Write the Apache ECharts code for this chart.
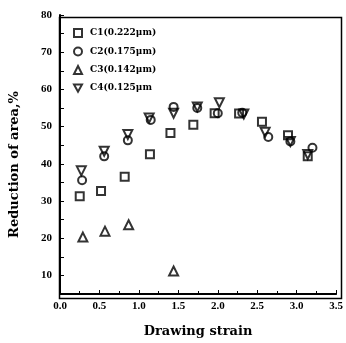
<!DOCTYPE html>
<html>
<head>
<meta charset="utf-8">
<script src="https://cdn.jsdelivr.net/npm/echarts@6/dist/echarts.min.js"></script>
<style>
  html, body { margin: 0; padding: 0; background: #fff; }
  #chart { width: 346px; height: 343px; }
</style>
</head>
<body>
<div id="chart"></div>
<script>
(function () {

    var seriesNames = ['C1(0.222\u03bcm)', 'C2(0.175\u03bcm)', 'C3(0.142\u03bcm)', 'C4(0.125\u03bcm'];

    // [drawing strain, reduction of area %]
    var c1 = [[0.25, 31.3], [0.52, 32.7], [0.82, 36.5], [1.14, 42.6], [1.40, 48.3], [1.69, 50.5],
              [1.96, 53.6], [2.27, 53.5], [2.56, 51.3], [2.89, 47.7], [3.14, 42.0]];
    var c2 = [[0.28, 35.6], [0.56, 42.0], [0.86, 46.3], [1.15, 51.8], [1.44, 55.3], [1.74, 55.0],
              [2.00, 53.6], [2.31, 53.7], [2.64, 47.2], [2.92, 46.0], [3.20, 44.3]];
    var c3 = [[0.29, 20.3], [0.57, 21.9], [0.87, 23.6], [1.44, 11.2]];
    var c4 = [[0.27, 38.1], [0.56, 43.4], [0.86, 47.9], [1.13, 52.3], [1.44, 53.6], [1.74, 55.3],
              [2.02, 56.4], [2.33, 53.4], [2.60, 48.5], [2.92, 46.0], [3.14, 42.5]];

    var font = 'Liberation Serif';
    var wide = 'DejaVu Serif';
    var symbols = ['rect', 'circle', 'triangle', 'path://M0,0 L10,0 L5,9 Z'];
    var sizes = [8, 8, 9, 9];

    var dataSets = [c1, c2, c3, c4];
    var series = dataSets.map(function (d, i) {
        return {
            name: seriesNames[i],
            type: 'scatter',
            symbol: symbols[i],
            symbolSize: sizes[i],
            itemStyle: { color: 'rgba(255,255,255,0)', borderColor: '#000', borderWidth: 2 },
            data: d
        };
    });

    var chart = echarts.init(document.getElementById('chart'));
    chart.setOption({
        animation: false,
        backgroundColor: '#fff',
        grid: { left: 57, right: 7, top: 15, bottom: 47 },
        legend: {
            orient: 'vertical', left: 73, top: 28, itemGap: 8.5, padding: 0,
            itemWidth: 8, itemHeight: 8,
            data: seriesNames,
            textStyle: { fontFamily: wide, fontSize: 9, fontWeight: 'bold', color: '#000', padding: [0, 0, 0, 3] }
        },
        xAxis: {
            type: 'value', min: 0, max: 3.5, interval: 0.5,
            name: 'Drawing strain', nameLocation: 'middle', nameGap: 31,
            nameTextStyle: { fontFamily: wide, fontSize: 13, fontWeight: 'bold', color: '#000' },
            axisLine: { show: true, onZero: false, lineStyle: { color: '#000', width: 2 } },
            axisTick: { inside: true, length: 4, lineStyle: { color: '#000' } },
            minorTick: { show: true, splitNumber: 2, length: 3, lineStyle: { color: '#000' } },
            axisLabel: {
                fontFamily: font, fontSize: 11, fontWeight: 'bold', color: '#000', margin: 7,
                formatter: function (v) { return v.toFixed(1); }
            },
            splitLine: { show: false }
        },
        yAxis: {
            type: 'value', min: 5, max: 80, interval: 5,
            name: 'Reduction of area,%', nameLocation: 'middle', nameGap: 39,
            nameTextStyle: { fontFamily: wide, fontSize: 13, fontWeight: 'bold', color: '#000', padding: [0, 20, 0, 0] },
            axisLine: { show: true, onZero: false, lineStyle: { color: '#000', width: 2 } },
            axisTick: { inside: true, length: 4, lineStyle: { color: '#000' } },
            axisLabel: {
                fontFamily: font, fontSize: 11, fontWeight: 'bold', color: '#000', margin: 8,
                formatter: function (v) { return v % 10 === 0 ? String(v) : ''; }
            },
            splitLine: { show: false }
        },
        graphic: [{
            type: 'rect', left: 57, top: 15,
            shape: { width: 282, height: 281 },
            style: { fill: 'none', stroke: '#000', lineWidth: 1.5 },
            silent: true, z: 0
        }],
        series: series
    });

})();
</script>
</body>
</html>
